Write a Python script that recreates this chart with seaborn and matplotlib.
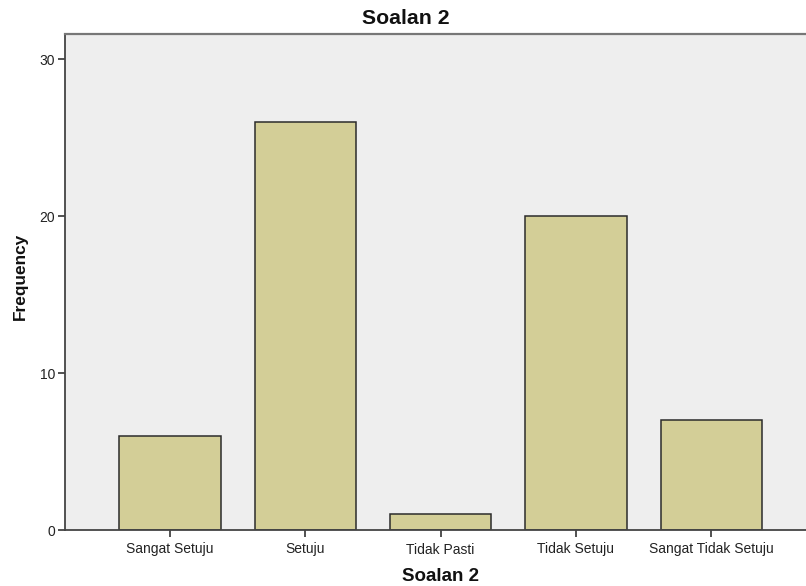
import matplotlib
matplotlib.use("Agg")
import matplotlib.pyplot as plt
import seaborn as sns
import pandas as pd

categories = ["Sangat Setuju", "Setuju", "Tidak Pasti", "Tidak Setuju", "Sangat Tidak Setuju"]
frequency = [6, 26, 1, 20, 7]
y_ticks = [0, 10, 20, 30]

sns.set_style("white")
plt.rcParams['font.family'] = ['Liberation Sans', 'DejaVu Sans']

df = pd.DataFrame({"cat": categories, "freq": frequency})

fig = plt.figure(figsize=(8.06, 5.86), dpi=100)
ax = fig.add_axes([65/806, 56/586, 1 - 65/806, (530-34)/586])
ax.set_facecolor("#eeeeee")
sns.barplot(data=df, x="cat", y="freq", color="#d3ce97", edgecolor="#2b2b2b",
            linewidth=1.1, width=0.75, saturation=1, ax=ax)

ax.set_xlim(-0.776, 4.70)
ax.set_ylim(0, 31.6)
ax.set_yticks(y_ticks)
ax.set_yticklabels([str(t) for t in y_ticks])
ax.tick_params(axis="both", direction="out", length=5, width=1.2, color="#333333",
               labelsize=10, labelcolor="#222222", pad=2, bottom=True, left=True)
ax.tick_params(axis="x", pad=4)
for s in ["left", "bottom"]:
    ax.spines[s].set_color("#444444")
    ax.spines[s].set_linewidth(1.3)
ax.spines["top"].set_color("#777777")
ax.spines["top"].set_linewidth(1.6)
ax.spines["right"].set_visible(False)

fig.text(406/806, 1 - 19/586, "Soalan 2", fontsize=15.3, fontweight="bold",
         ha="center", va="center", color="#111111")
ax.set_xlabel("Soalan 2", fontsize=13.5, fontweight="bold", color="#111111")
ax.set_ylabel("Frequency", fontsize=12.4, fontweight="bold", color="#111111")
ax.xaxis.set_label_coords(0.507, -0.0766)
ax.yaxis.set_label_coords(-0.0499, 0.512)

fig.savefig("out.png", dpi=100)
